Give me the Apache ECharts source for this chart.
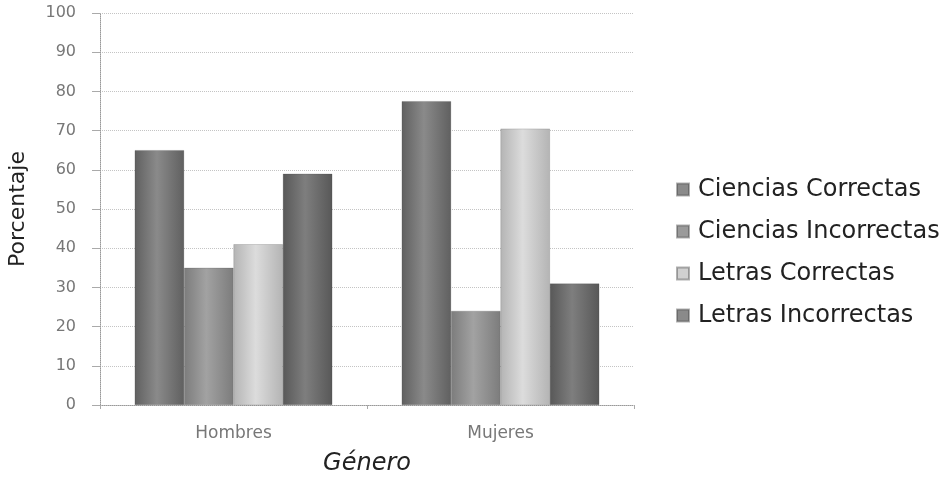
<!DOCTYPE html>
<html>
<head>
<meta charset="utf-8">
<script src="https://cdn.jsdelivr.net/npm/echarts@6/dist/echarts.min.js"></script>
<style>
  html, body { margin: 0; padding: 0; background: #fff; }
  #chart { width: 951px; height: 477px; }
</style>
</head>
<body>
<div id="chart"></div>
<script>
const categories = ['Hombres', 'Mujeres']
const seriesNames = ['Ciencias Correctas', 'Ciencias Incorrectas', 'Letras Correctas', 'Letras Incorrectas']
const cienciasCorrectas = [65, 77.5]
const cienciasIncorrectas = [35, 24]
const letrasCorrectas = [41, 70.5]
const letrasIncorrectas = [59, 31]
const yTicks = [0, 10, 20, 30, 40, 50, 60, 70, 80, 90, 100]

// sombreado tipo cilindro
function shade(edge, mid) {
  return new echarts.graphic.LinearGradient(0, 0, 1, 0, [
    { offset: 0, color: edge },
    { offset: 0.45, color: mid },
    { offset: 1, color: edge }
  ])
}
const colors = [
  shade('#606060', '#8a8a8a'),
  shade('#7c7c7c', '#a2a2a2'),
  shade('#b4b4b4', '#dcdcdc'),
  shade('#585858', '#7e7e7e')
]
const legendColors = ['#8a8a8a', '#9a9a9a', '#d0d0d0', '#8a8a8a']
const values = [cienciasCorrectas, cienciasIncorrectas, letrasCorrectas, letrasIncorrectas]

const chart = echarts.init(document.getElementById('chart'))
chart.setOption({
  animation: false,
  grid: { left: 100, right: 317, top: 13, bottom: 72, outerBoundsMode: 'none', containLabel: false },
  legend: {
    orient: 'vertical',
    left: 671,
    top: 172,
    itemGap: 17,
    itemWidth: 12,
    itemHeight: 12,
    icon: 'rect',
    textStyle: { fontSize: 24, lineHeight: 25, color: '#222', fontFamily: 'DejaVu Sans', padding: [0, 0, 0, 4] },
    data: seriesNames.map((n, i) => ({ name: n, itemStyle: { color: legendColors[i] } }))
  },
  xAxis: {
    type: 'category',
    data: categories,
    name: 'Género',
    nameLocation: 'middle',
    nameGap: 47,
    nameTextStyle: { fontSize: 24, fontStyle: 'italic', color: '#222', fontFamily: 'DejaVu Sans' },
    axisLine: { lineStyle: { color: '#999', type: 'dotted' } },
    axisTick: { show: true, length: 4, lineStyle: { color: '#aaa' } },
    axisLabel: { fontSize: 17, color: '#777', fontFamily: 'DejaVu Sans', margin: 20 }
  },
  yAxis: {
    type: 'value',
    min: yTicks[0],
    max: yTicks[yTicks.length - 1],
    interval: 10,
    name: 'Porcentaje',
    nameLocation: 'middle',
    nameGap: 71,
    nameTextStyle: { fontSize: 22, color: '#222', fontFamily: 'DejaVu Sans' },
    axisLine: { show: true, lineStyle: { color: '#999', type: 'dotted' } },
    axisTick: { show: true, length: 8, lineStyle: { color: '#aaa' } },
    axisLabel: { fontSize: 16, color: '#777', fontFamily: 'DejaVu Sans', margin: 24 },
    splitLine: { lineStyle: { color: '#c4c4c4', type: 'dotted' } }
  },
  series: values.map((v, i) => ({
    name: seriesNames[i],
    type: 'bar',
    data: v,
    barGap: '0%',
    barCategoryGap: '26%',
    itemStyle: { color: colors[i], borderColor: 'rgba(60,60,60,0.4)', borderWidth: 0.5 }
  }))
})
</script>
</body>
</html>
